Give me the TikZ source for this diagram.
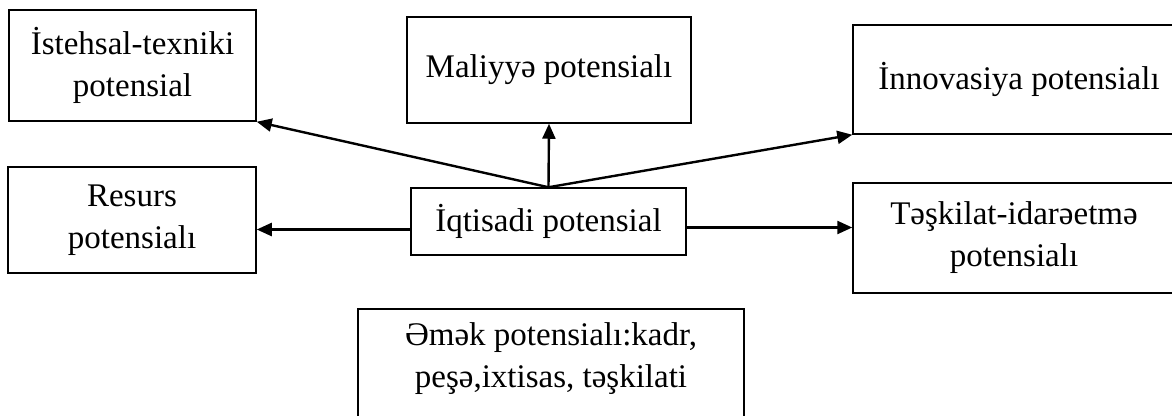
\documentclass[tikz,border=0pt]{standalone}
\usepackage{fontspec}
\setmainfont{Liberation Serif}
\usetikzlibrary{arrows.meta,positioning,calc}

\begin{document}
\begin{tikzpicture}[x=1pt,y=-1pt,>={Triangle[length=15pt,width=13pt]},
  font=\fontsize{33}{42}\selectfont,
  box/.style={draw,line width=1.5pt,align=center,inner sep=0pt},
  link/.style={->,line width=2.4pt}]
\useasboundingbox (0,0) rectangle (1172,415);
\foreach \n/\x/\y/\w/\h/\t in {ist/132.5/65.5/247/111/{İstehsal-texniki\\potensial},
    mal/549/70/284/106/{Maliyyə potensialı},
    inn/1019/79.5/332/109/{İnnovasiya potensialı},
    res/132/220/248/106/{Resurs\\potensialı},
    iqt/548.5/221.5/275/67/{İqtisadi potensial},
    tes/1014/238/322/110/{Təşkilat-idarəetmə\\potensialı}}
  \node[box,minimum width=\w pt,minimum height=\h pt] (\n) at (\x,\y) {\t};
\node[box,minimum width=386pt,minimum height=140pt,anchor=north] (emek) at (551,308) {};
\node[align=center,anchor=north,inner sep=0pt] (emektxt) at ([yshift=-14pt]emek.north)
  {Əmək potensialı:kadr,\\peşə,ixtisas, təşkilati};
\draw[link] (iqt.north) -- (mal.south);
\draw[link] (iqt.north) -- (ist.south east);
\draw[link] (iqt.north) -- (inn.south west);
\draw[link] ([yshift=-8pt]iqt.west) -- ([yshift=-8pt]iqt.west -| res.east);
\draw[link] ([yshift=-6pt]iqt.east) -- ([yshift=-6pt]iqt.east -| tes.west);
\end{tikzpicture}
\end{document}
